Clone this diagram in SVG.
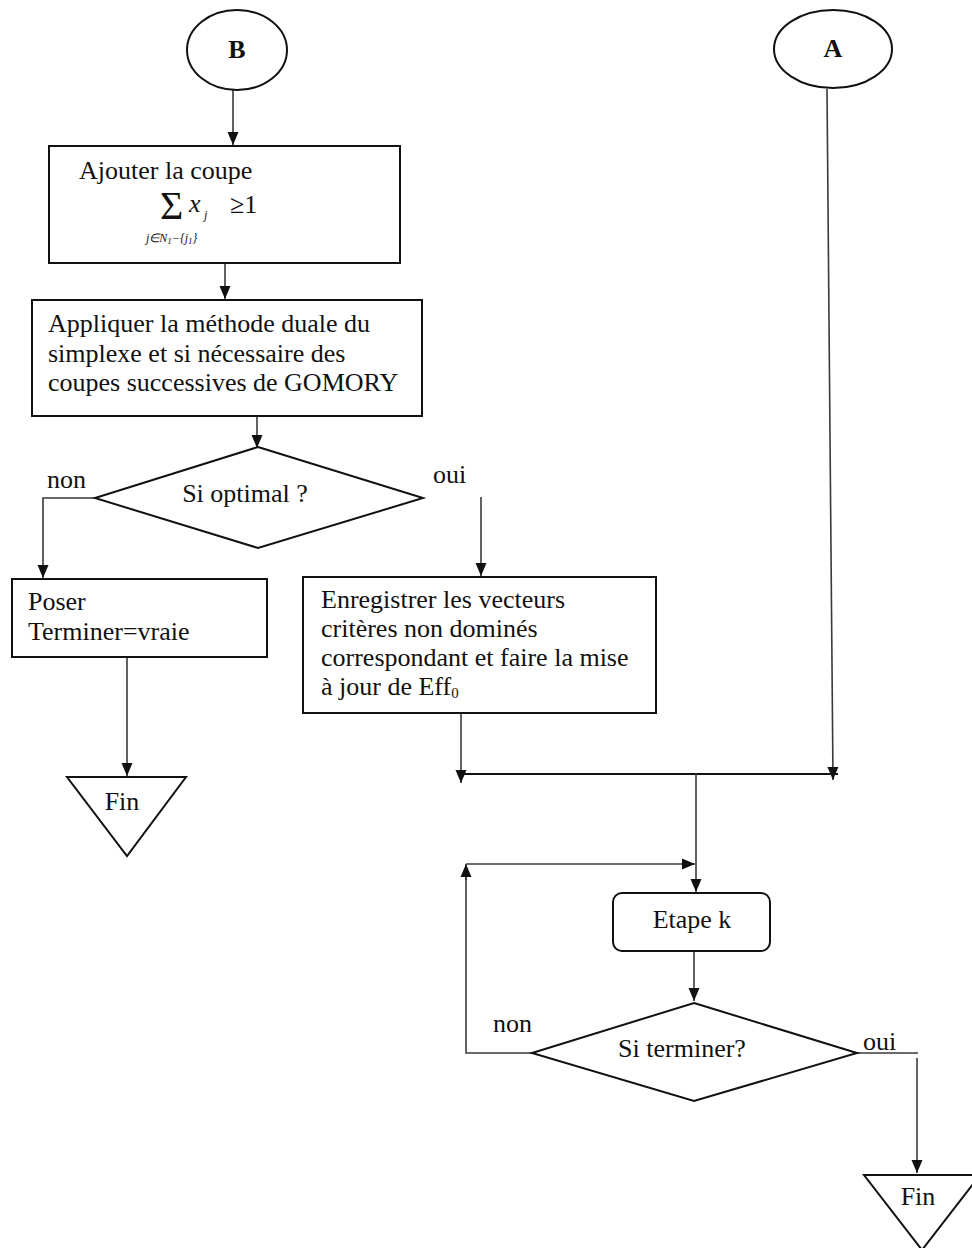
<svg xmlns="http://www.w3.org/2000/svg" width="972" height="1248" viewBox="0 0 972 1248">
<style>
.s{fill:#fff;stroke:#111;stroke-width:2}
.c{fill:none;stroke:#3a3a3a;stroke-width:1.6}
.t{font-family:"Liberation Serif","Times New Roman",serif;font-size:26px;fill:#111}
.b{font-weight:bold}
.sm{font-family:"Liberation Serif","Times New Roman",serif;font-size:12px;font-style:italic;fill:#111}
</style>
<defs>
<marker id="ah" markerUnits="userSpaceOnUse" markerWidth="14" markerHeight="14" viewBox="0 0 14 14" refX="13" refY="7" orient="auto">
<path d="M0,1.5 L13,7 L0,12.5 Z" fill="#111"/>
</marker>
</defs>
<rect width="972" height="1248" fill="#fff"/>
<g id="connectors">
<line class="c" x1="233" y1="90" x2="233" y2="145" marker-end="url(#ah)"/>
<line class="c" x1="225" y1="263" x2="225" y2="299" marker-end="url(#ah)"/>
<line class="c" x1="257" y1="416" x2="257" y2="448" marker-end="url(#ah)"/>
<polyline class="c" points="95,498 43,498 43,578" marker-end="url(#ah)"/>
<line class="c" x1="481" y1="497" x2="481" y2="576" marker-end="url(#ah)"/>
<line class="c" x1="127" y1="657" x2="127" y2="776" marker-end="url(#ah)"/>
<line class="c" x1="461" y1="713" x2="461" y2="783" marker-end="url(#ah)"/>
<line class="c" x1="827" y1="89" x2="833" y2="780" marker-end="url(#ah)"/>
<line class="c" x1="458" y1="774" x2="838" y2="774" style="stroke:#111;stroke-width:2"/>
<line class="c" x1="696" y1="774" x2="696" y2="892" marker-end="url(#ah)"/>
<line class="c" x1="694" y1="951" x2="694" y2="1001" marker-end="url(#ah)"/>
<polyline class="c" points="532,1053 466,1053 466,866"/>
<line class="c" x1="466" y1="880" x2="466" y2="864" marker-end="url(#ah)"/>
<line class="c" x1="466" y1="864" x2="695" y2="864" marker-end="url(#ah)"/>
<polyline class="c" points="857,1053 918,1053"/>
<line class="c" x1="917" y1="1058" x2="917" y2="1173" marker-end="url(#ah)"/>
<text class="t" x="47" y="488">non</text>
<text class="t" x="433" y="483">oui</text>
<text class="t" x="493" y="1032">non</text>
<text class="t" x="863" y="1050">oui</text>
</g>
<g id="B">
<ellipse class="s" cx="237" cy="50" rx="50" ry="40"/>
<text class="t b" x="237" y="58" text-anchor="middle">B</text>
</g>
<g id="A">
<ellipse class="s" cx="833" cy="49" rx="59" ry="39"/>
<text class="t b" x="833" y="57" text-anchor="middle">A</text>
</g>
<g id="ajouter">
<rect class="s" x="49" y="146" width="351" height="117"/>
<text class="t" x="79" y="179">Ajouter la coupe</text>
<text class="t" x="160" y="219" style="font-size:40px">Σ</text>
<text class="t" x="189" y="212" style="font-style:italic">x</text>
<text class="sm" x="204" y="219">j</text>
<text class="t" x="230" y="213">≥1</text>
<text class="sm" x="146" y="242">j∈N<tspan font-size="9" dy="2">1</tspan><tspan dy="-2">−{j</tspan><tspan font-size="9" dy="2">1</tspan><tspan dy="-2">}</tspan></text>
</g>
<g id="appliquer">
<rect class="s" x="32" y="300" width="390" height="116"/>
<text class="t" x="48" y="332">Appliquer la méthode duale du</text>
<text class="t" x="48" y="362">simplexe et si nécessaire des</text>
<text class="t" x="48" y="391">coupes successives de GOMORY</text>
</g>
<g id="optimal">
<polygon class="s" points="258,447 423,498 258,548 95,498"/>
<text class="t" x="245" y="502" text-anchor="middle">Si optimal ?</text>
</g>
<g id="poser">
<rect class="s" x="12" y="579" width="255" height="78"/>
<text class="t" x="28" y="610">Poser</text>
<text class="t" x="28" y="640">Terminer=vraie</text>
</g>
<g id="fin1">
<polygon class="s" points="67,777 186,777 127,856"/>
<text class="t" x="122" y="810" text-anchor="middle">Fin</text>
</g>
<g id="enregistrer">
<rect class="s" x="303" y="577" width="353" height="136"/>
<text class="t" x="321" y="608">Enregistrer les vecteurs</text>
<text class="t" x="321" y="637">critères non dominés</text>
<text class="t" x="321" y="666">correspondant et faire la mise</text>
<text class="t" x="321" y="695">à jour de Eff<tspan font-size="15" dy="3">0</tspan></text>
</g>
<g id="etape">
<rect class="s" x="613" y="893" width="157" height="58" rx="9"/>
<text class="t" x="692" y="928" text-anchor="middle">Etape k</text>
</g>
<g id="terminer">
<polygon class="s" points="694,1003 857,1053 694,1101 532,1053"/>
<text class="t" x="682" y="1057" text-anchor="middle">Si terminer?</text>
</g>
<g id="fin2">
<polygon class="s" points="864,1175 980,1175 922,1250"/>
<text class="t" x="918" y="1205" text-anchor="middle">Fin</text>
</g>
</svg>
